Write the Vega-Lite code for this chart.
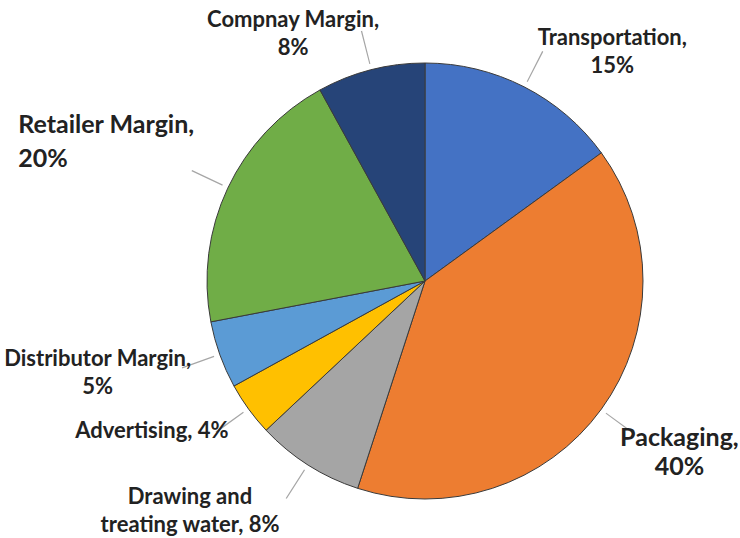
{
  "$schema": "https://vega.github.io/schema/vega-lite/v6.json",
  "width": 630,
  "height": 514,
  "autosize": {"type": "none"},
  "padding": {"left": 110, "top": 24, "right": 0, "bottom": 0},
  "background": "white",
  "view": {"stroke": null},
  "config": {
    "text": {"font": "Lato", "fontWeight": "bold", "fontSize": 22, "lineHeight": 28, "lineBreak": "\n", "color": "#222222", "baseline": "middle", "radius": 265}
  },
  "data": {
    "values": [
      {"order": 1, "category": "Transportation", "value": 15, "label": "Transportation,\n15%"},
      {"order": 2, "category": "Packaging", "value": 40, "label": "Packaging,\n40%"},
      {"order": 3, "category": "Drawing and treating water", "value": 8, "label": "Drawing and\ntreating water, 8%"},
      {"order": 4, "category": "Advertising", "value": 4, "label": "Advertising, 4%"},
      {"order": 5, "category": "Distributor Margin", "value": 5, "label": "Distributor Margin,\n5%"},
      {"order": 6, "category": "Retailer Margin", "value": 20, "label": "Retailer Margin,\n20%"},
      {"order": 7, "category": "Compnay Margin", "value": 8, "label": "Compnay Margin,\n8%"}
    ]
  },
  "transform": [
    {"stack": "value", "groupby": [], "sort": [{"field": "order"}], "as": ["v0", "v1"]},
    {"calculate": "(datum.v0 + datum.v1) / 2", "as": "mid"},
    {"calculate": "datum.mid + 0.08", "as": "mid2"}
  ],
  "layer": [
    {
      "mark": {"type": "arc", "outerRadius": 218, "stroke": "#3a3a3a", "strokeWidth": 1},
      "encoding": {
        "theta": {"field": "v0", "type": "quantitative", "scale": {"domain": [0, 100]}},
        "theta2": {"field": "v1"},
        "color": {
          "field": "category",
          "type": "nominal",
          "legend": null,
          "scale": {
            "domain": ["Transportation", "Packaging", "Drawing and treating water", "Advertising", "Distributor Margin", "Retailer Margin", "Compnay Margin"],
            "range": ["#4472C4", "#ED7D31", "#A5A5A5", "#FFC000", "#5B9BD5", "#70AD47", "#264478"]
          }
        }
      }
    },
    {
      "mark": {"type": "arc", "radius": 258, "radius2": 224, "fill": "#a6a6a6"},
      "encoding": {
        "theta": {"field": "mid", "type": "quantitative"},
        "theta2": {"field": "mid2"}
      }
    },
    {
      "transform": [{"filter": "datum.mid < 20"}],
      "mark": {"type": "text", "align": "center", "dx": 67, "dy": -7},
      "encoding": {
        "theta": {"field": "mid", "type": "quantitative"},
        "text": {"field": "label"}
      }
    },
    {
      "transform": [{"filter": "datum.mid >= 20 && datum.mid < 50"}],
      "mark": {"type": "text", "align": "center", "dx": 40, "dy": 1, "fontSize": 25, "lineHeight": 29},
      "encoding": {
        "theta": {"field": "mid", "type": "quantitative"},
        "text": {"field": "label"}
      }
    },
    {
      "transform": [{"filter": "datum.mid >= 50 && datum.mid < 62"}],
      "mark": {"type": "text", "align": "center", "dx": -93, "dy": -8},
      "encoding": {
        "theta": {"field": "mid", "type": "quantitative"},
        "text": {"field": "label"}
      }
    },
    {
      "transform": [{"filter": "datum.mid >= 62 && datum.mid < 68"}],
      "mark": {"type": "text", "align": "right", "dx": 18, "dy": -6},
      "encoding": {
        "theta": {"field": "mid", "type": "quantitative"},
        "text": {"field": "label"}
      }
    },
    {
      "transform": [{"filter": "datum.mid >= 68 && datum.mid < 80"}],
      "mark": {"type": "text", "align": "center", "dx": -78, "dy": -12},
      "encoding": {
        "theta": {"field": "mid", "type": "quantitative"},
        "text": {"field": "label"}
      }
    },
    {
      "transform": [{"filter": "datum.mid >= 80 && datum.mid < 90"}],
      "mark": {"type": "text", "align": "left", "dx": -167, "dy": -43, "fontSize": 25, "lineHeight": 34},
      "encoding": {
        "theta": {"field": "mid", "type": "quantitative"},
        "text": {"field": "label"}
      }
    },
    {
      "transform": [{"filter": "datum.mid >= 90"}],
      "mark": {"type": "text", "align": "center", "dx": -66, "dy": -4},
      "encoding": {
        "theta": {"field": "mid", "type": "quantitative"},
        "text": {"field": "label"}
      }
    }
  ]
}
